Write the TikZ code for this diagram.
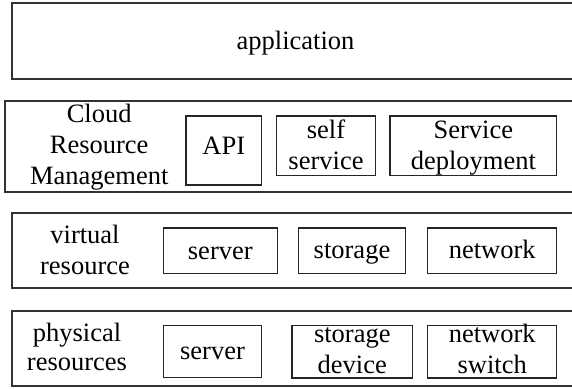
\documentclass[tikz,border=0pt]{standalone}
\usepackage{fontspec}
\setmainfont{Liberation Serif}
% stacked, centred lines whose baseline is that of the first line
\newcommand\stacked[1]{\begin{tabular}[t]{@{}c@{}}#1\end{tabular}}
\begin{document}
\begin{tikzpicture}[x=1pt,y=-1pt,
  every node/.style={inner sep=0pt, outer sep=0pt},
  txt/.style={anchor=base, font=\fontsize{26.5}{31}\selectfont, text=black},
  layer/.style={draw=black!80, line width=1.7pt, anchor=north west},
  item/.style={draw=black!85, line width=1.3pt}]
  \useasboundingbox (0,0) rectangle (572,388);
  \clip (0,0) rectangle (572,388);

  % the four layers, running off the right edge
  \node[layer, minimum width=600pt, minimum height=75.4pt] (app)  at (12,3.3)   {};
  \node[layer, minimum width=600pt, minimum height=91pt]   (crm)  at (4.7,100.7) {};
  \node[layer, minimum width=600pt, minimum height=75pt]   (virt) at (12,213.3)  {};
  \node[layer, minimum width=600pt, minimum height=75.6pt] (phys) at (12,310.7)  {};

  % layer captions
  \node[txt] (appl)  at (295.5,49.3) {application};
  \node[txt] (crml)  at (99.2,122.7) {\stacked{Cloud\\Resource\\Management}};
  \node[txt] (virtl) at (85,243.3)   {\stacked{virtual\\resource}};
  \node[txt] (physl) at (77,341.7)   {\stacked{physical\\[-2pt]resources}};

  % cloud resource management
  \node[item, minimum width=75.7pt,  minimum height=69pt]   (api)    at (223.8,150.5)  {};
  \node[item, minimum width=98.6pt,  minimum height=59.7pt] (self)   at (326,145.85)   {};
  \node[item, minimum width=166.7pt, minimum height=59.7pt] (deploy) at (473.3,145.85) {};
  \node[txt] (apit)    at (api.center |- 0,154)      {API};
  \node[txt] (selft)   at (self.center |- 0,138.3)   {\stacked{self\\service}};
  \node[txt] (deployt) at (deploy.center |- 0,138.3) {\stacked{Service\\deployment}};

  % virtual resources
  \node[item, minimum width=114pt,   minimum height=45.3pt] (vserver)  at (220.3,250.65) {};
  \node[item, minimum width=106.6pt, minimum height=45.3pt] (vstorage) at (352,250.65)   {};
  \node[item, minimum width=129pt,   minimum height=45.3pt] (vnetwork) at (492.2,250.65) {};
  \node[txt] (vservert)  at (vserver.center |- 0,259)  {server};
  \node[txt] (vstoraget) at (vstorage.center |- 0,258) {storage};
  \node[txt] (vnetworkt) at (vnetwork.center |- 0,258) {network};

  % physical resources
  \node[item, minimum width=98.4pt,  minimum height=51.6pt] (pserver)  at (212.5,351.5)  {};
  \node[item, minimum width=120.7pt, minimum height=52.3pt] (pstorage) at (352.3,351.85) {};
  \node[item, minimum width=129pt,   minimum height=52.3pt] (pswitch)  at (492.2,351.85) {};
  \node[txt] (pservert)  at (pserver.center |- 0,359.7)  {server};
  \node[txt] (pstoraget) at (pstorage.center |- 0,342.3) {\stacked{storage\\device}};
  \node[txt] (pswitcht)  at (pswitch.center |- 0,342.3)  {\stacked{network\\switch}};
\end{tikzpicture}
\end{document}
